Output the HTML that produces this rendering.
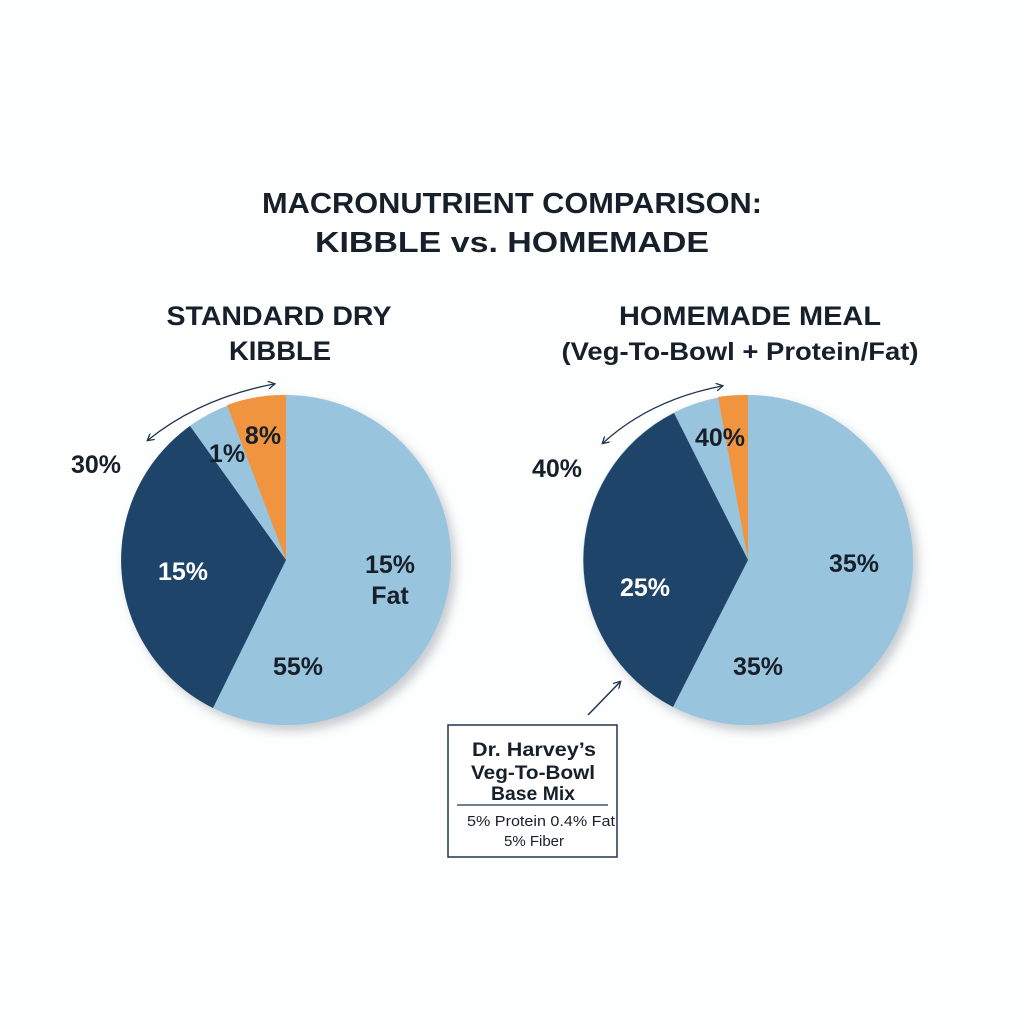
<!DOCTYPE html>
<html><head><meta charset="utf-8"><style>
body{margin:0;width:1024px;height:1024px;background:#fdfefe;overflow:hidden;font-family:"Liberation Sans",Arial,sans-serif;}
</style></head><body>
<svg width="1024" height="1024" viewBox="0 0 1024 1024" xmlns="http://www.w3.org/2000/svg" font-family="Liberation Sans, Arial, sans-serif">
<defs>
<filter id="sh" x="-20%" y="-20%" width="140%" height="140%"><feGaussianBlur stdDeviation="5"/></filter>
<marker id="ah" markerWidth="8" markerHeight="8" refX="6" refY="4" orient="auto-start-reverse" markerUnits="userSpaceOnUse"><path d="M0,0 L7,4 L0,8" fill="none" stroke="#1e3550" stroke-width="1.3"/></marker>
</defs>
<rect width="1024" height="1024" fill="#fdfefe"/>
<g fill="#17202a" font-weight="bold" text-anchor="middle" lengthAdjust="spacingAndGlyphs">
<text x="512" y="213" font-size="29" textLength="500" lengthAdjust="spacingAndGlyphs">MACRONUTRIENT COMPARISON:</text>
<text x="512" y="252" font-size="29" textLength="394" lengthAdjust="spacingAndGlyphs">KIBBLE vs. HOMEMADE</text>
<text x="279" y="325" font-size="27" textLength="225" lengthAdjust="spacingAndGlyphs">STANDARD DRY</text>
<text x="280" y="360" font-size="27" textLength="102" lengthAdjust="spacingAndGlyphs">KIBBLE</text>
<text x="750" y="325" font-size="27" textLength="262" lengthAdjust="spacingAndGlyphs">HOMEMADE MEAL</text>
<text x="740" y="360" font-size="25" textLength="357" lengthAdjust="spacingAndGlyphs">(Veg-To-Bowl + Protein/Fat)</text>
</g>
<circle cx="291" cy="566" r="165" fill="#c8ccd0" filter="url(#sh)"/>
<circle cx="753" cy="566" r="165" fill="#c8ccd0" filter="url(#sh)"/>
<circle cx="286" cy="560" r="165" fill="#98c5dd"/>
<path d="M286,560 L190,426 A165,165 0 0,0 213,708 Z" fill="#1f4469"/>
<path d="M286,560 L286,395 A165,165 0 0,0 227,405 Z" fill="#f0943f"/>
<circle cx="748" cy="560" r="165" fill="#98c5dd"/>
<path d="M748,560 L674,413 A165,165 0 0,0 673,707 Z" fill="#1f4469"/>
<path d="M748,560 L748,395 A165,165 0 0,0 718,397 Z" fill="#f0943f"/>
<path d="M148,440 Q200,398 274,384" fill="none" stroke="#1e3550" stroke-width="1.3" marker-start="url(#ah)" marker-end="url(#ah)"/>
<path d="M603,443 Q650,400 722,386" fill="none" stroke="#1e3550" stroke-width="1.3" marker-start="url(#ah)" marker-end="url(#ah)"/>
<path d="M588,715 L620,682" fill="none" stroke="#1e3550" stroke-width="1.5" marker-end="url(#ah)"/>
<g font-weight="bold" font-size="25" text-anchor="middle" fill="#17202a">
<text x="96" y="473">30%</text>
<text x="227" y="462">1%</text>
<text x="263" y="444">8%</text>
<text x="183" y="580" fill="#fff">15%</text>
<text x="390" y="573">15%</text>
<text x="390" y="604">Fat</text>
<text x="298" y="675">55%</text>
<text x="557" y="477">40%</text>
<text x="720" y="446">40%</text>
<text x="645" y="596" fill="#fff">25%</text>
<text x="854" y="572">35%</text>
<text x="758" y="675">35%</text>
</g>
<rect x="448" y="725" width="169" height="132" fill="#fff" stroke="#1e3550" stroke-width="1.5"/>
<g text-anchor="middle" fill="#17202a">
<text x="534" y="756" font-size="19" font-weight="bold" textLength="124" lengthAdjust="spacingAndGlyphs">Dr. Harvey’s</text>
<text x="533" y="779" font-size="19" font-weight="bold" textLength="124" lengthAdjust="spacingAndGlyphs">Veg-To-Bowl</text>
<text x="533" y="800" font-size="19" font-weight="bold" textLength="84" lengthAdjust="spacingAndGlyphs">Base Mix</text>
<line x1="457" y1="805" x2="608" y2="805" stroke="#1e3550" stroke-width="1.2"/>
<text x="541" y="826" font-size="15" textLength="148" lengthAdjust="spacingAndGlyphs">5% Protein 0.4% Fat</text>
<text x="534" y="846" font-size="15">5% Fiber</text>
</g>
</svg>
</body></html>
